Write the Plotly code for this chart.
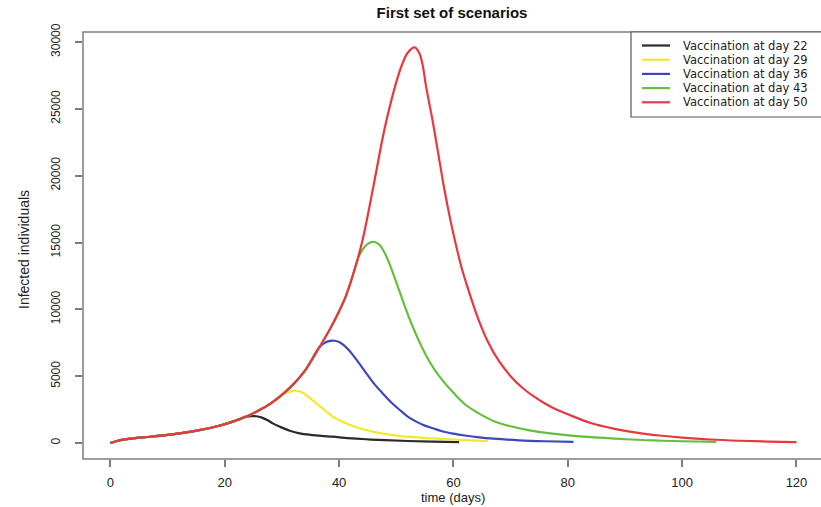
import plotly.graph_objects as go

# ---- data ----
series_names = ["Vaccination at day 22", "Vaccination at day 29", "Vaccination at day 36",
                "Vaccination at day 43", "Vaccination at day 50"]
series_colors = ["#2a2a2a", "#F2E92A", "#3C48BE", "#66BE3E", "#E8383F"]

# common early growth phase (before any vaccination effect)
days_early = [0, 1, 2, 4, 7, 10, 13, 16, 19, 21.4, 23.7]
inf_early = [0, 130, 230, 350, 470, 610, 780, 1000, 1290, 1600, 1970]

days_d22 = [24.5, 25.5, 26.5, 27.5, 28.4, 30, 31.5, 33.1, 35, 36.9, 38.9, 41.5, 44.7, 48, 52, 56.4, 61]
inf_d22 = [2000, 2000, 1900, 1700, 1470, 1150, 900, 725, 610, 530, 470, 370, 280, 210, 150, 100, 70]

days_d29 = [26, 28, 30.1, 31, 32, 32.5, 33.5, 34.5, 36, 37.5, 38.9, 40.5, 42.5, 44.7, 47.5, 50.6, 53.5, 56.4, 60, 63, 66]
inf_d29 = [2450, 2950, 3640, 3800, 3900, 3910, 3800, 3500, 2970, 2450, 1970, 1600, 1250, 970, 720, 520, 420, 350, 260,
           200, 160]

days_d36 = [26, 28, 30.1, 32, 34, 36.6, 37.5, 38.4, 39.2, 40, 40.8, 41.8, 43, 44.7, 46, 47.6, 49, 50.6, 52, 53.5, 55,
            56.4, 58, 60, 62, 64.5, 67, 71.5, 76, 81]
inf_d36 = [2450, 2950, 3640, 4400, 5400, 7200, 7500, 7640, 7650, 7550, 7320, 6900, 6250, 5250, 4500, 3720, 3080, 2470,
           1980, 1600, 1300, 1100, 880, 700, 560, 420, 320, 200, 130, 80]

days_d43 = [26, 28, 30.1, 32, 34, 36.6, 38.5, 40.9, 42, 43.5, 44.5, 45.4, 46.2, 47, 48, 49, 50.6, 52.3, 54, 55.8, 57.5,
            60, 62, 64.5, 67, 70, 73.3, 77, 81, 85.5, 90, 95, 100, 106]
inf_d43 = [2450, 2950, 3640, 4400, 5400, 7200, 8600, 10700, 12000, 14000, 14700, 15000, 15040, 14850, 14200, 13200,
           11300, 9300, 7600, 6100, 5000, 3750, 2900, 2200, 1650, 1250, 950, 720, 540, 400, 280, 190, 130, 80]

days_d50 = [26, 28, 30.1, 32, 34, 36.6, 38.5, 40.9, 42, 44, 46, 48, 50, 51, 52, 53.2, 54.0, 54.6,
            55.2, 56.4, 57.4, 58.4, 59.5, 60.5, 61.5, 62.5, 63.5, 64.5, 66, 68, 70, 72, 74, 76, 78, 80, 84, 88,
            92, 96, 100, 105, 110, 115, 120]
inf_d50 = [2450, 2950, 3640, 4400, 5400, 7200, 8600, 10700, 12000, 15000, 19200, 23600, 27000, 28300, 29200, 29600,
           29200, 28300, 26700, 24000, 21500, 19000, 16600, 14700, 13000, 11600, 10300, 9100,
           7600, 6100, 5000, 4150, 3500, 2950, 2500, 2150, 1500, 1080, 780, 560, 400, 260, 170, 110, 70]

x_ticks = [0, 20, 40, 60, 80, 100, 120]
y_ticks = [0, 5000, 10000, 15000, 20000, 25000, 30000]


def with_early(days, vals):
    # join common early phase with the part read for this scenario
    return days_early + days, inf_early + vals


later = [(days_d22, inf_d22), (days_d29, inf_d29), (days_d36, inf_d36), (days_d43, inf_d43), (days_d50, inf_d50)]

fig = go.Figure()
for name, color, (dd, vv) in zip(series_names, series_colors, later):
    xs, ys = with_early(dd, vv)
    fig.add_trace(go.Scatter(x=xs, y=ys, mode="lines", name=name,
                             line=dict(color=color, width=2.2, shape="spline", smoothing=1.0),
                             showlegend=False, hoverinfo="skip"))

FONT = "Liberation Sans, Arial, sans-serif"
LEG_FONT = "DejaVu Sans, Liberation Sans, sans-serif"
frame_col = "#7d7d7d"

fig.update_layout(
    width=821, height=507,
    margin=dict(l=83, r=0, t=32, b=48),
    paper_bgcolor="white", plot_bgcolor="white",
    font=dict(family=FONT, color="#222"),
    title=dict(text="<b>First set of scenarios</b>", x=0.5, xref="paper", xanchor="center",
               y=1 - 13 / 507, yanchor="middle", font=dict(size=15, family=FONT, color="#111")),
    showlegend=False,
)

fig.update_xaxes(range=[-4.8, 124.29], tickvals=x_ticks, ticktext=[str(v) for v in x_ticks],
                 showgrid=False, zeroline=False, showline=False,
                 ticks="outside", ticklen=7, tickwidth=1.5, tickcolor=frame_col,
                 tickfont=dict(size=13, family=FONT, color="#222"), ticklabelstandoff=4)
fig.update_yaxes(range=[-1197, 30748], tickvals=y_ticks, ticktext=[str(v) for v in y_ticks],
                 showgrid=False, zeroline=False, showline=False,
                 ticks="outside", ticklen=7, tickwidth=1.5, tickcolor=frame_col, tickangle=-90,
                 tickfont=dict(size=12, family=FONT, color="#222"), ticklabelstandoff=10)

# plot frame (right side runs off the page, as in the reference)
fig.add_shape(type="rect", xref="paper", yref="paper", x0=0, x1=1.02, y0=0, y1=1,
              line=dict(color=frame_col, width=1.5), layer="above")

# axis titles
fig.add_annotation(text="time (days)", xref="paper", yref="paper", x=(453 - 83) / 738, y=(459 - 497) / 427,
                   showarrow=False, xanchor="center", yanchor="middle", font=dict(size=13, family=FONT, color="#222"))
fig.add_annotation(text="Infected individuals", xref="paper", yref="paper", x=(24 - 83) / 738, y=(459 - 250) / 427,
                   showarrow=False, xanchor="center", yanchor="middle", textangle=-90,
                   font=dict(size=14, family=FONT, color="#222"))

# legend box (drawn by hand so the compact row spacing of the reference is kept)
fig.add_shape(type="rect", xref="paper", yref="paper", x0=(631 - 83) / 738, x1=1.02,
              y0=(459 - 117) / 427, y1=1, line=dict(color="#555", width=1.2), fillcolor="white", layer="above")
row_y = [45.5, 59.7, 73.9, 88.1, 102.3]
for name, color, ry in zip(series_names, series_colors, row_y):
    py = (459 - ry) / 427
    fig.add_shape(type="line", xref="paper", yref="paper", x0=(642 - 83) / 738, x1=(670 - 83) / 738,
                  y0=py, y1=py, line=dict(color=color, width=2.2), layer="above")
    fig.add_annotation(text=name, xref="paper", yref="paper", x=(682 - 83) / 738, y=py,
                       showarrow=False, xanchor="left", yanchor="middle", borderpad=0,
                       font=dict(size=11.5, family=LEG_FONT, color="#222"))

fig.write_html("out.html")
